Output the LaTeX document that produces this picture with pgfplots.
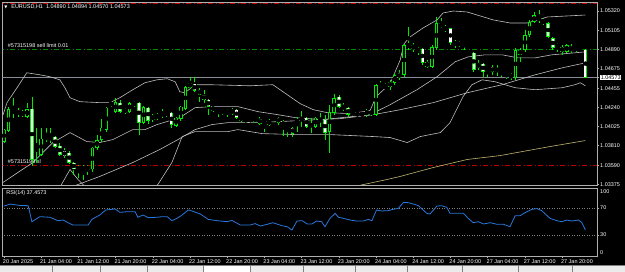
\documentclass[border=0pt]{standalone}
\usepackage{fontspec}
\setmainfont{Liberation Sans}
\newfontfamily\dejavu{DejaVu Sans}
\usepackage{pgfplots}
\usepackage{pgfplotstable}
\pgfplotsset{compat=1.18}
\definecolor{cgreen}{RGB}{0,235,0}
\definecolor{band}{RGB}{190,190,190}
\definecolor{framec}{RGB}{175,175,175}
\definecolor{khaki}{RGB}{190,180,110}
\definecolor{ordred}{RGB}{190,0,0}
\definecolor{ordgreen}{RGB}{0,140,0}
\definecolor{bidline}{RGB}{135,140,150}
\definecolor{rsiblue}{RGB}{40,120,220}
\definecolor{tabgray}{RGB}{235,235,235}
\newcommand{\lbl}{\fontsize{5.5}{6.5}\selectfont}

\pgfplotstableread{
i o h l c
0 1.03857 1.04002 1.03845 1.03991
1 1.03980 1.04248 1.03969 1.04225
2 1.04203 1.04348 1.04125 1.04180
3 1.04180 1.04237 1.04136 1.04192
4 1.04158 1.04214 1.04136 1.04180
5 1.04136 1.04292 1.04125 1.04225
6 1.04225 1.04360 1.03578 1.03656
7 1.03746 1.04013 1.03622 1.03790
8 1.03712 1.04013 1.03690 1.03891
9 1.03913 1.04013 1.03857 1.03879
10 1.03879 1.04013 1.03845 1.03913
11 1.03913 1.03924 1.03790 1.03801
12 1.03812 1.03845 1.03690 1.03712
13 1.03757 1.03790 1.03678 1.03690
14 1.03734 1.03746 1.03600 1.03622
15 1.03622 1.03634 1.03488 1.03544
16 1.03544 1.03600 1.03455 1.03566
17 1.03566 1.03589 1.03421 1.03544
18 1.03544 1.03600 1.03488 1.03578
19 1.03544 1.03801 1.03522 1.03790
20 1.03790 1.03935 1.03768 1.03879
21 1.03879 1.04114 1.03857 1.04013
22 1.03991 1.04248 1.03969 1.04237
23 1.04270 1.04304 1.04248 1.04292
24 1.04192 1.04348 1.04180 1.04304
25 1.04292 1.04326 1.04180 1.04192
26 1.04180 1.04237 1.04169 1.04225
27 1.04192 1.04304 1.04180 1.04292
28 1.04292 1.04315 1.04248 1.04270
29 1.04292 1.04300 1.03935 1.04069
30 1.04069 1.04259 1.04058 1.04248
31 1.04237 1.04248 1.04058 1.04092
32 1.04103 1.04169 1.04080 1.04147
33 1.04147 1.04180 1.04103 1.04136
34 1.04147 1.04225 1.04125 1.04180
35 1.04158 1.04203 1.04136 1.04180
36 1.04180 1.04192 1.04013 1.04047
37 1.04036 1.04136 1.04024 1.04125
38 1.04114 1.04259 1.04092 1.04248
39 1.04225 1.04482 1.04214 1.04471
40 1.04460 1.04583 1.04449 1.04516
41 1.04505 1.04583 1.04415 1.04427
42 1.04438 1.04460 1.04304 1.04382
43 1.04382 1.04438 1.04292 1.04326
44 1.04326 1.04337 1.04158 1.04248
45 1.04248 1.04259 1.04192 1.04203
46 1.04225 1.04237 1.04136 1.04192
47 1.04203 1.04225 1.04158 1.04180
48 1.04180 1.04225 1.04136 1.04203
49 1.04169 1.04237 1.04158 1.04214
50 1.04214 1.04225 1.04114 1.04125
51 1.04136 1.04147 1.04080 1.04092
52 1.04103 1.04125 1.04069 1.04092
53 1.04092 1.04125 1.04080 1.04103
54 1.04080 1.04136 1.04069 1.04125
55 1.04114 1.04136 1.04047 1.04058
56 1.04058 1.04080 1.03969 1.04069
57 1.04047 1.04114 1.04036 1.04092
58 1.04103 1.04136 1.04080 1.04125
59 1.04125 1.04136 1.04047 1.04069
60 1.04047 1.04103 1.03924 1.04069
61 1.04047 1.04058 1.03913 1.04013
62 1.04013 1.04024 1.03913 1.03946
63 1.04069 1.04136 1.03969 1.04103
64 1.04092 1.04203 1.04024 1.04125
65 1.04125 1.04136 1.04013 1.04024
66 1.04024 1.04125 1.03957 1.04058
67 1.04024 1.04136 1.04013 1.04125
68 1.04114 1.04180 1.04024 1.04080
69 1.04103 1.04158 1.03879 1.03957
70 1.03969 1.04270 1.03734 1.04192
71 1.04180 1.04393 1.04158 1.04348
72 1.04360 1.04382 1.04237 1.04248
73 1.04259 1.04292 1.04203 1.04225
74 1.04237 1.04248 1.04136 1.04158
75 1.04192 1.04203 1.04147 1.04158
76 1.04158 1.04180 1.04147 1.04169
77 1.04169 1.04180 1.04147 1.04158
78 1.04158 1.04225 1.04136 1.04203
79 1.04203 1.04214 1.04147 1.04158
80 1.04158 1.04505 1.04147 1.04494
81 1.04494 1.04538 1.04455 1.04460
82 1.04460 1.04516 1.04449 1.04482
83 1.04471 1.04549 1.04438 1.04527
84 1.04516 1.04628 1.04494 1.04605
85 1.04628 1.04661 1.04549 1.04572
86 1.04605 1.04952 1.04583 1.04940
87 1.04918 1.05141 1.04885 1.04952
88 1.04940 1.04963 1.04862 1.04896
89 1.04862 1.04918 1.04829 1.04907
90 1.04896 1.04907 1.04717 1.04739
91 1.04750 1.04773 1.04683 1.04695
92 1.04695 1.04940 1.04683 1.04918
93 1.04907 1.05253 1.04885 1.05186
94 1.05141 1.05242 1.05130 1.05186
95 1.05141 1.05164 1.05085 1.05108
96 1.05130 1.05136 1.04940 1.04963
97 1.04952 1.04996 1.04907 1.04963
98 1.04963 1.04985 1.04918 1.04940
99 1.04974 1.04985 1.04885 1.04940
100 1.04862 1.04868 1.04817 1.04829
101 1.04851 1.04857 1.04639 1.04661
102 1.04683 1.04773 1.04661 1.04739
103 1.04728 1.04739 1.04583 1.04639
104 1.04639 1.04683 1.04583 1.04672
105 1.04695 1.04717 1.04605 1.04639
106 1.04683 1.04717 1.04594 1.04639
107 1.04628 1.04661 1.04583 1.04639
108 1.04628 1.04639 1.04560 1.04594
109 1.04616 1.04628 1.04549 1.04572
110 1.04572 1.04907 1.04549 1.04885
111 1.04829 1.04907 1.04750 1.04885
112 1.04885 1.05108 1.04862 1.05052
113 1.05052 1.05220 1.05030 1.05197
114 1.05197 1.05309 1.05186 1.05275
115 1.05220 1.05331 1.05186 1.05253
116 1.05220 1.05242 1.05164 1.05186
117 1.05186 1.05197 1.05018 1.05030
118 1.05018 1.05030 1.04885 1.04907
119 1.04907 1.04963 1.04862 1.04952
120 1.04918 1.04940 1.04829 1.04862
121 1.04862 1.04952 1.04851 1.04940
122 1.04874 1.04952 1.04851 1.04918
123 1.04918 1.04929 1.04862 1.04885
124 1.04896 1.04940 1.04885 1.04918
125 1.04890 1.04894 1.04570 1.04573
}\candles

\pgfplotstableread{
i p
-0.2 1.04158
0.65 1.04293
2.8 1.04460
4.9 1.04628
7.7 1.04605
9.9 1.04583
12.0 1.04549
13.1 1.04460
14.2 1.04348
16.3 1.04304
20.6 1.04293
22.8 1.04293
24.9 1.04348
27.7 1.04438
30.3 1.04516
32.9 1.04549
35.1 1.04561
36.8 1.04527
37.8 1.04415
38.9 1.04404
41.1 1.04494
44.3 1.04494
52.9 1.04482
57.8 1.04494
60.9 1.04382
63.7 1.04281
66.5 1.04214
69.5 1.04181
74.4 1.04170
78.7 1.04203
80.0 1.04360
83.0 1.04505
85.2 1.04773
86.0 1.04952
87.3 1.05030
90.1 1.05130
93.1 1.05220
94.4 1.05298
96.6 1.05320
99.6 1.05309
105.2 1.05220
108.8 1.05186
112.5 1.05186
116.8 1.05253
125.0 1.05275
}\bbupper

\pgfplotstableread{
i p
-0.2 1.03399
6.2 1.03622
10.5 1.03846
14.2 1.03957
17.8 1.03857
20.6 1.03846
23.4 1.03879
27.7 1.03991
30.3 1.03991
32.9 1.04047
37.8 1.04125
41.1 1.04237
44.7 1.04248
50.3 1.04248
54.6 1.04192
58.9 1.04158
62.6 1.04125
68.6 1.04103
78.7 1.04158
83.0 1.04270
88.8 1.04438
93.1 1.04583
97.0 1.04751
99.8 1.04806
103.4 1.04829
107.1 1.04829
110.5 1.04795
114.2 1.04795
117.8 1.04829
125.0 1.04862
}\bbmid

\pgfplotstableread{
i p
9.9 1.03153
12.0 1.03343
14.2 1.03544
15.9 1.03432
18.5 1.03298
24.9 1.03254
31.4 1.03298
33.1 1.03377
36.1 1.03622
38.3 1.03913
41.1 1.03969
48.2 1.03969
50.3 1.03991
55.5 1.03946
62.6 1.03935
70.1 1.03935
79.4 1.03913
83.0 1.03902
86.7 1.03846
89.5 1.03913
93.8 1.03957
95.9 1.04069
98.7 1.04360
100.6 1.04494
102.8 1.04549
105.6 1.04527
109.9 1.04460
114.2 1.04438
120.0 1.04460
122.8 1.04494
123.9 1.04516
125.0 1.04482
}\bblower

\pgfplotstableread{
i p
9.9 1.03209
14.8 1.03354
20.6 1.03466
27.7 1.03622
33.5 1.03768
37.4 1.03879
41.1 1.03991
44.7 1.04047
48.2 1.04069
51.8 1.04069
58.9 1.04080
72.3 1.04114
79.4 1.04158
85.2 1.04214
92.3 1.04293
99.6 1.04404
107.1 1.04494
114.2 1.04605
120.0 1.04683
125.0 1.04739
}\slowma

\pgfplotstableread{
i p
74.4 1.03343
82.4 1.03432
85.2 1.03466
92.3 1.03566
99.6 1.03656
106.7 1.03700
110.3 1.03734
117.4 1.03801
125.0 1.03868
}\yellowma

\pgfplotstableread{
i r
0.0 73
1.3 76
3.4 74
5.2 73.6
6.0 49.7
7.7 57.2
9.9 56.3
11.6 51.2
12.7 52.2
13.8 48.2
14.8 44.8
18.1 44.8
18.9 53.2
20.6 59.7
21.9 67.2
23.9 68.7
24.9 63.7
26.5 64.6
28.2 64.6
28.8 56.3
29.9 59.7
31.0 55.7
32.9 56.3
34.0 57.2
35.1 57.2
36.1 51.2
37.2 54.7
38.3 59.7
39.6 67.2
40.4 65.7
42.2 61.2
43.9 53.2
45.8 51.2
48.0 49.7
49.0 51.7
50.8 44.8
52.9 44.8
54.0 46.8
55.1 43.3
56.6 45.8
57.8 48.2
59.8 43.7
60.9 42.2
61.9 37.3
63.0 50.7
64.1 51.2
65.2 46.3
66.2 46.3
67.2 50.7
68.3 49.7
69.0 42.2
70.1 54.7
71.2 62.2
71.9 56.3
73.0 54.7
74.4 52.2
75.8 50.7
77.3 50.7
78.3 53.2
79.1 51.2
80.1 67.2
81.2 65.7
82.6 66.2
83.7 68.2
84.8 69.7
85.9 78.6
86.9 78.1
88.0 76.1
89.1 73.6
90.9 62.2
91.6 61.2
93.1 73.1
94.1 73.6
95.2 71.2
95.9 62.2
97.4 62.2
98.8 62.2
99.8 54.7
100.9 48.2
102.0 49.7
103.1 46.3
104.5 48.2
106.0 45.8
107.4 45.8
108.8 42.2
109.9 58.7
111.0 58.7
112.0 63.1
113.5 68.2
114.6 69.2
115.6 66.2
117.4 54.7
118.9 51.2
119.9 49.7
121.0 52.2
122.1 50.7
123.5 52.2
124.2 48.8
125.0 37.46
}\rsi

\begin{document}
\begin{tikzpicture}
\path[use as bounding box, fill=black] (0,0) rectangle (625bp,272bp);
\fill[tabgray] (0,0) rectangle (625bp,6.5bp);
\fill[white] (203bp,0) rectangle (250bp,6.5bp);
\foreach \x in {52,100,147,203,250,303,355,407,462,518,572}{\draw[gray, line width=0.5bp] (\x bp,0) -- (\x bp,6.5bp);}
\draw[gray, line width=0.5bp] (0,6.5bp) -- (625bp,6.5bp);

% ---------------- main price panel ----------------
\begin{axis}[
  scale only axis, at={(2.6bp,87bp)}, anchor=south west,
  width=594.4bp, height=183bp,
  xmin=-0.3, xmax=127.5, ymin=1.0337, ymax=1.05421,
  clip mode=individual,
  axis background/.style={fill=black},
  axis line style={framec, line width=0.7bp},
  xtick=\empty,
  ytick={1.05320,1.05105,1.04890,1.04675,1.04455,1.04240,1.04025,1.03810,1.03590,1.03375},
  yticklabels={1.05320,1.05105,1.04890,1.04675,1.04455,1.04240,1.04025,1.03810,1.03590,1.03375},
  ytick pos=right, tick align=outside, major tick length=2bp,
  tick style={framec, line width=0.5bp},
  yticklabel style={font=\lbl, text=white, anchor=west, inner sep=0pt, xshift=1bp},
  extra y ticks={1.04573}, extra y tick labels={1.04573},
  extra y tick style={yticklabel style={fill=white, text=black, inner sep=0.6bp}},
]
% horizontal order / price lines
\addplot[ordred, line width=0.6bp, dash pattern=on 5bp off 2.5bp on 1bp off 2.5bp] coordinates {(-1,1.05410) (130,1.05410)};
\addplot[ordred, line width=0.6bp, dash pattern=on 5bp off 2.5bp on 1bp off 2.5bp] coordinates {(-1,1.03590) (130,1.03590)};
\addplot[ordgreen, line width=0.6bp, dash pattern=on 5bp off 2.5bp on 1bp off 2.5bp] coordinates {(-1,1.04890) (130,1.04890)};
\addplot[bidline, line width=0.6bp] coordinates {(-1,1.04573) (130,1.04573)};
% indicator lines
\addplot[khaki, line width=0.6bp] table[x=i, y=p] {\yellowma};
\addplot[band, line width=0.6bp] table[x=i, y=p] {\slowma};
\addplot[band, line width=0.6bp] table[x=i, y=p] {\bbupper};
\addplot[band, line width=0.6bp] table[x=i, y=p] {\bbmid};
\addplot[band, line width=0.6bp] table[x=i, y=p] {\bblower};
% order labels
\node[anchor=south west, text=white, font=\lbl, inner sep=0pt, yshift=1.5bp] at (axis cs:0.8,1.04890) {\#57315198 sell limit 0.01};
\node[anchor=south west, text=white, font=\lbl, inner sep=0pt, yshift=1.5bp] at (axis cs:0.8,1.03590) {\#57315198 sl};
% candles: wicks
\addplot[only marks, mark=none, error bars/.cd, y dir=both, y explicit, error mark=none,
  error bar style={draw=cgreen, line width=0.7bp}]
  table[x=i, y expr={(\thisrow{h}+\thisrow{l})/2}, y error expr={(\thisrow{h}-\thisrow{l})/2}] {\candles};
% candles: body outline
\addplot[only marks, mark=none, error bars/.cd, y dir=both, y explicit, error mark=none,
  error bar style={draw=cgreen, line width=3.6bp}]
  table[x=i, y expr={(\thisrow{o}+\thisrow{c})/2}, y error expr={max(abs(\thisrow{o}-\thisrow{c})/2,0.00004)}] {\candles};
% bull bodies: black interior
\addplot[only marks, mark=none, error bars/.cd, y dir=both, y explicit, error mark=none,
  error bar style={draw=black, line width=1.7bp}]
  table[x=i, y expr={(\thisrow{o}+\thisrow{c})/2}, y error expr={ifthenelse(\thisrow{c}>\thisrow{o}, max((\thisrow{c}-\thisrow{o})/2-0.00009,0), 0)}] {\candles};
% bear bodies: white interior
\addplot[only marks, mark=none, error bars/.cd, y dir=both, y explicit, error mark=none,
  error bar style={draw=white, line width=2.1bp}]
  table[x=i, y expr={(\thisrow{o}+\thisrow{c})/2}, y error expr={ifthenelse(\thisrow{o}>\thisrow{c}, max((\thisrow{o}-\thisrow{c})/2-0.00006,0), 0)}] {\candles};
% title
\node[anchor=north west, text=white, font=\lbl, inner sep=0pt, xshift=1.5bp, yshift=-2bp] at (rel axis cs:0,1)
  {{\dejavu\fontsize{4}{5}\selectfont ▼}\hspace{4bp}EURUSD,H1\hspace{3bp}1.04890 1.04894 1.04570 1.04573};
\end{axis}

% ---------------- RSI panel ----------------
\begin{axis}[
  scale only axis, at={(2.6bp,16bp)}, anchor=south west,
  width=594.4bp, height=68bp,
  xmin=-0.3, xmax=127.5, ymin=-1.5, ymax=100,
  clip mode=individual,
  axis background/.style={fill=black},
  axis line style={framec, line width=0.7bp},
  xtick={0,8,...,120},
  xticklabels={20 Jan 2025,21 Jan 04:00,21 Jan 12:00,21 Jan 20:00,22 Jan 04:00,22 Jan 12:00,22 Jan 20:00,23 Jan 04:00,23 Jan 12:00,23 Jan 20:00,24 Jan 04:00,24 Jan 12:00,24 Jan 20:00,27 Jan 04:00,27 Jan 12:00,27 Jan 20:00},
  xtick pos=bottom, ytick pos=right,
  tick align=outside, major tick length=2bp,
  tick style={framec, line width=0.5bp},
  xticklabel style={font=\lbl, text=white, anchor=north west, inner sep=0pt, xshift=-1.2bp, yshift=-1bp},
  ytick={30,70}, yticklabels={30,70},
  yticklabel style={font=\lbl, text=white, anchor=west, inner sep=0pt, xshift=1bp},
]
\addplot[gray, line width=0.5bp, dash pattern=on 1bp off 1.5bp] coordinates {(-1,70) (130,70)};
\addplot[gray, line width=0.5bp, dash pattern=on 1bp off 1.5bp] coordinates {(-1,30) (130,30)};
\addplot[rsiblue, line width=0.8bp] table[x=i, y=r] {\rsi};
\node[anchor=north west, text=white, font=\lbl, inner sep=0pt, xshift=3.5bp, yshift=-2bp] at (rel axis cs:0,1) {RSI(14) 37.4573};
\node[anchor=north west, text=white, font=\lbl, inner sep=0pt, xshift=3bp, yshift=-1bp] at (rel axis cs:1,1) {100};
\node[anchor=south west, text=white, font=\lbl, inner sep=0pt, xshift=3bp, yshift=1bp] at (rel axis cs:1,0) {0};
\end{axis}
\end{tikzpicture}
\end{document}
